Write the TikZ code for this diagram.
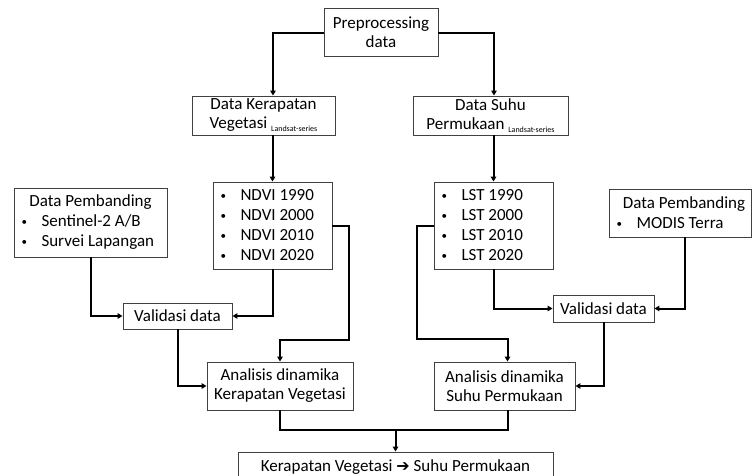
\documentclass[tikz,border=0pt]{standalone}
\usepackage{fontspec}
\setmainfont{Carlito}
\newfontfamily\dvfont{DejaVu Sans}
\usetikzlibrary{arrows.meta}
\newcommand{\ns}{\spaceskip=0pt\xspaceskip=0pt\relax}
\newcommand{\bl}{\makebox[20.5pt][l]{\hspace{0.5pt}\raisebox{1.6pt}{\fontsize{11}{11}\selectfont•}}}
\newcommand{\lss}{\raisebox{-3pt}{\fontsize{8}{9}\selectfont Landsat-series}}
\begin{document}
\begin{tikzpicture}[x=1pt,y=-1pt,
  box/.style={draw=black!75, line width=0.9pt, fill=white, font=\fontsize{17}{19}\selectfont, align=center, inner sep=0pt},
  listbox/.style={box, font=\fontsize{17}{20}\selectfont, align=left, inner xsep=7pt, inner ysep=0pt},
  conn/.style={line width=2pt, black},
  arr/.style={conn, -{Triangle[length=5pt,width=5.5pt]}}]
\useasboundingbox (0,0) rectangle (752,475);
\clip (0,0) rectangle (752,475);

\node[box, minimum width=114pt, minimum height=48pt] (pre) at (381,32) {Preprocessing\\data};
\node[box, minimum width=143pt, minimum height=39pt] (dkv) at (263.5,115.5) {Data Kerapatan\\Vegetasi \lss};
\node[box, minimum width=155pt, minimum height=39pt] (dsp) at (490.5,115.5) {Data Suhu\\Permukaan \lss};
\node[listbox, text width=105pt, minimum height=87pt] (ndvi) at (272.5,225.5) {\ns\bl NDVI 1990\\\bl NDVI 2000\\\bl NDVI 2010\\\bl NDVI 2020};
\node[listbox, text width=105pt, minimum height=87pt] (lst) at (493.5,225.5) {\ns\bl LST 1990\\\bl LST 2000\\\bl LST 2010\\\bl LST 2020};
\node[listbox, text width=139pt, minimum height=69pt] (dp1) at (90.5,222.5) {\ns\makebox[\hsize]{Data Pembanding}\\\bl Sentinel-2 A/B\\\bl Survei Lapangan};
\node[listbox, text width=128pt, minimum height=48pt] (dp2) at (680,213) {\ns\makebox[\hsize]{\hspace{8pt}Data Pembanding}\\\bl MODIS Terra};
\node[box, minimum width=109pt, minimum height=26pt] (val1) at (177.5,316) {Validasi data};
\node[box, minimum width=101pt, minimum height=27pt] (val2) at (603.5,308.5) {Validasi data};
\node[box, minimum width=146pt, minimum height=48pt] (akv) at (280,386) {Analisis dinamika\\Kerapatan Vegetasi};
\node[box, minimum width=141pt, minimum height=48pt] (asp) at (504.5,386) {Analisis dinamika\\Suhu Permukaan};
\node[box, minimum width=315pt, minimum height=30pt] (fin) at (395.5,467) {Kerapatan Vegetasi {\dvfont\bfseries\fontsize{16}{16}\selectfont ➔} Suhu Permukaan};

\coordinate (b1) at (349,340);
\coordinate (b2) at (417,339);
\coordinate (b3) at (395.5,430);

\draw[arr] ([yshift=-1pt]pre.west) -| ([xshift=9.5pt]dkv.north);
\draw[arr] ([yshift=-1pt]pre.east) -| ([xshift=3.5pt]dsp.north);
\draw[arr] (ndvi.north |- dkv.south) -- (ndvi.north);
\draw[arr] (lst.north |- dsp.south) -- (lst.north);
\draw[arr] (dp1.south) |- (val1.west);
\draw[arr] (ndvi.south) |- (val1.east);
\draw[arr] (lst.south) |- (val2.west);
\draw[arr] ([xshift=5pt]dp2.south) |- (val2.east);
\draw[arr] (ndvi.east) -| (b1) -| (akv.north);
\draw[arr] (lst.west) -| (b2) -| ([xshift=3pt]asp.north);
\draw[arr] (val1.south) |- (akv.west);
\draw[arr] (val2.south) |- (asp.east);
\draw[conn] (akv.south) |- (b3) -| ([xshift=3pt]asp.south);
\draw[arr] (b3) -- (fin.north);
\end{tikzpicture}
\end{document}
